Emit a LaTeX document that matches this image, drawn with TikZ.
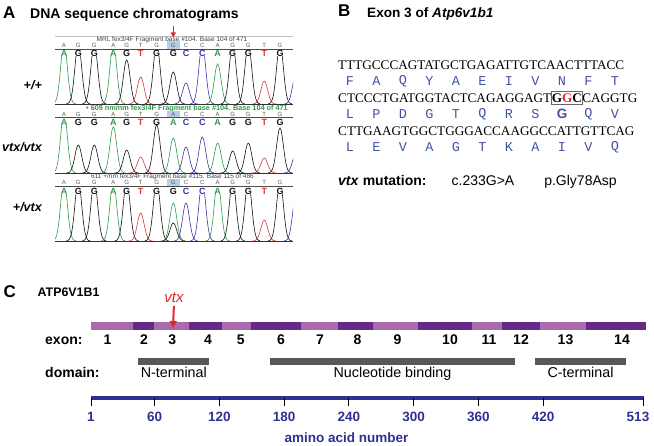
\documentclass[tikz,border=0pt]{standalone}
\usepackage{fontspec}
\setmainfont{Liberation Sans}
\newfontfamily\seqfont{Liberation Serif}
\newfontfamily\aafont{Liberation Mono}
\usetikzlibrary{arrows.meta,positioning}

\newcommand{\fsz}[1]{\fontsize{#1}{#1}\selectfont}

\definecolor{trA}{HTML}{2E9A48}
\definecolor{trC}{HTML}{3434A8}
\definecolor{trG}{HTML}{111111}
\definecolor{trT}{HTML}{D8383E}
\definecolor{exL}{HTML}{A86CAD}
\definecolor{exD}{HTML}{66298A}
\definecolor{axisblue}{HTML}{2E3192}
\definecolor{aablue}{HTML}{4152A3}
\definecolor{vtxred}{HTML}{E3262C}
\definecolor{hlblue}{HTML}{B8CDE8}
\definecolor{domgray}{HTML}{585858}

% base calls of the three runs
\def\callswt{64/A,78.3/G,94.3/G,113.3/A,126.7/G,140.7/T,156.7/G,173.3/G,186/C,202.3/C,217.7/A,232.7/G,248.3/G,264.3/T,280/G}
\def\callsmut{64/A,78.3/G,94.3/G,113.3/A,126.7/G,140.7/T,156.7/G,173.3/A,186/C,202.3/C,217.7/A,232.7/G,248.3/G,264.3/T,280/G}

% one chromatogram trace: baseline, clip top, list of centre/height/base
\newcommand{\tracerow}[3]{%
  \begin{scope}
    \clip (55,#2) rectangle (293,#1+1);
    \foreach \pc/\ph/\pb in {#3} {
      \pgfmathsetmacro{\lo}{\pc-12}
      \pgfmathsetmacro{\hi}{\pc+12}
      \draw[tr\pb, line width=0.6pt] plot[smooth, domain=\lo:\hi, samples=25]
        (\x, {#1-\ph*exp(-(\x-\pc)*(\x-\pc)/23)});
    }
  \end{scope}
  \draw[black!80, line width=0.8pt] (55,#1) -- (293,#1);}

\begin{document}
\begin{tikzpicture}[x=1pt, y=-1pt,
    panel/.style={font=\fsz{17}\bfseries, inner sep=0pt, anchor=base west},
    panelhead/.style={font=\fsz{14}\bfseries, inner sep=0pt, anchor=base west},
    genotype/.style={font=\fsz{12.5}\bfseries\itshape, inner sep=0pt, anchor=east},
    runinfo/.style={font=\fsz{6.5}, text=black!75, inner sep=0pt},
    callsmall/.style={font=\fsz{6}, text=black!65, inner sep=0pt},
    callbig/.style={font=\fsz{9}\bfseries, inner sep=0pt},
    dnaline/.style={font=\seqfont\fsz{13.2}, inner sep=0pt},
    aaletter/.style={font=\aafont\fsz{13.5}, text=aablue, inner sep=0pt},
    mutnote/.style={font=\fsz{14}, inner sep=0pt, anchor=base},
    exonlab/.style={font=\fsz{14}\bfseries, inner sep=0pt, anchor=base},
    domtext/.style={font=\fsz{14.3}, inner sep=0pt, anchor=base},
    ticklab/.style={font=\fsz{13.5}\bfseries, text=axisblue, inner sep=0pt, anchor=base},
    vtxarrow/.style={vtxred, line width=2pt, -{Triangle[length=7pt,width=7pt]}}]
\useasboundingbox (0,0) rectangle (654,446);

% ---------------- A: chromatograms
\node[panel] (pA) at (3,18.3) {A};
\node[panelhead] (tA) at (30,18.3) {DNA sequence chromatograms};
\node[genotype] (gt1) at (42,85) {+/+};
\node[genotype] (gt2) at (42,147) {vtx/vtx};
\node[genotype] (gt3) at (42,207) {+/vtx};

% run headers and rules
\draw[black!25, line width=0.6pt] (55,36) -- (293,36);
\node[runinfo] (run1) at (172,40) {MRL fex3/4F Fragment base \#104. Base 104 of 471};
\node[runinfo, font=\fsz{7.3}\bfseries, text=trA] (run2) at (187,108.3) {• 609 nm/nm fex3/4F Fragment base \#104. Base 104 of 471};
\node[runinfo] (run3) at (172.5,176.7) {611 +/nm fex3/4F Fragment base \#115. Base 115 of 486};
\foreach \ly in {49.3,117.7,186.5}
  \draw[black!70, line width=0.7pt] (55,\ly) -- (293,\ly);

% highlighted call
\fill[hlblue] (167,41.5) rectangle (180,48.6);
\fill[hlblue] (167,110.6) rectangle (180,117.2);
\fill[hlblue] (167,179.3) rectangle (180,186);

% base calls
\foreach \pc/\pb [count=\i] in \callswt {
  \node[callsmall] (s1-\i) at (\pc,45) {\pb};
  \node[callbig, text=tr\pb] (g1-\i) at (\pc,53.5) {\pb};
  \node[callsmall] (s3-\i) at (\pc,182.5) {\pb};
  \node[callbig, text=tr\pb] (g3-\i) at (\pc,191.5) {\pb};
}
\foreach \pc/\pb [count=\i] in \callsmut {
  \node[callsmall] (s2-\i) at (\pc,114) {\pb};
  \node[callbig, text=tr\pb] (g2-\i) at (\pc,122.5) {\pb};
}

% traces
\tracerow{104}{57}{64/60/A,78.3/60/G,94.3/60/G,113.3/60/A,126.7/44/G,140.7/27/T,156.7/60/G,173.3/32/G,186/21/C,202.3/60/C,217.7/40/A,232.7/60/G,248.3/60/G,264.3/23/T,280/60/G,296/30/C}
\tracerow{173}{126}{64/60/A,78.3/28/G,94.3/28/G,113.3/46/A,126.7/23/G,140.7/16/T,156.7/48/G,173.3/35/A,186/26/C,202.3/36/C,217.7/30/A,232.7/22/G,248.3/30/G,264.3/15/T,280/45/G,296/20/C}
\tracerow{241}{195}{64/60/A,78.3/60/G,94.3/60/G,113.3/60/A,126.7/60/G,140.7/28/T,156.7/60/G,173.3/18/G,173.3/38/A,186/38/C,202.3/60/C,217.7/60/A,232.7/60/G,248.3/60/G,264.3/21/T,280/60/G,296/45/C}

% mutation arrow
\coordinate (mutA) at (173.3,26);
\coordinate (mutAend) at (173.3,37.5);
\draw[vtxarrow, line width=1.3pt, -{Triangle[length=5pt,width=5pt]}] (mutA) -- (mutAend);

% ---------------- B: exon 3 sequence
\node[panel] (pB) at (338,17) {B};
\node[panelhead, font=\fsz{13.6}\bfseries] (tB) at (367,17.3) {Exon 3 of \textit{Atp6v1b1}};

\node[dnaline, anchor=west] (dna1) at (338,65) {TTTGCCCAGTATGCTGAGATTGTCAACTTTACC};
\node[dnaline, anchor=west] (dna2a) at (338,98) {CTCCCTGATGGTACTCAGAGGAGT};
\node[dnaline, anchor=base west, draw=black!60, line width=0.6pt, inner ysep=2pt]
  (ggc) at (dna2a.base east) {\textbf{G\textcolor{vtxred}{G}C}};
\node[dnaline, anchor=base west] (dna2c) at (ggc.base east) {CAGGTG};
\node[dnaline, anchor=west] (dna3) at (338,131) {CTTGAAGTGGCTGGGACCAAGGCCATTGTTCAG};

\foreach \aa [count=\i] in {F,A,Q,Y,A,E,I,V,N,F,T}
  \node[aaletter] (aa1-\i) at ({350+26.5*(\i-1)},81) {\aa};
\foreach \aa [count=\i] in {L,P,D,G,T,Q,R,S,\textnormal{\bfseries G},Q,V}
  \node[aaletter] (aa2-\i) at ({350+26.5*(\i-1)},114) {\aa};
\foreach \aa [count=\i] in {L,E,V,A,G,T,K,A,I,V,Q}
  \node[aaletter] (aa3-\i) at ({350+26.5*(\i-1)},147) {\aa};

\node[mutnote, anchor=base west, font=\fsz{14}\bfseries] (mutlab) at (338,185.5) {\textit{vtx} mutation:};
\node[mutnote] (cdna) at (483,185.5) {c.233G>A};
\node[mutnote] (prot) at (580.5,185.5) {p.Gly78Asp};

% ---------------- C: protein map
\node[panel] (pC) at (3.5,298) {C};
\node[panelhead, font=\fsz{12.4}\bfseries] (tC) at (37.5,297) {ATP6V1B1};

% exons
\foreach \xa/\xb/\col in {91/133/exL, 133/154.3/exD, 154.3/189/exL, 189/222.3/exD,
    222.3/250.5/exL, 250.5/301.3/exD, 301.3/338.2/exL, 338.2/372.6/exD, 372.6/418/exL,
    418/472/exD, 472/502.4/exL, 502.4/540/exD, 540/586.3/exL, 586.3/645.5/exD}
  \fill[\col] (\xa,322) rectangle (\xb,330);
\node[exonlab, anchor=base west] (exlab) at (45,345) {exon:};
\foreach \xc [count=\i] in {107.5,144,172.3,208,240.7,281,320,357.5,397.5,450,489,521,565.5,622}
  \node[exonlab] (ex\i) at (\xc,345) {\i};

% vtx site
\node[font=\fsz{15}\itshape, text=vtxred, inner sep=0pt, anchor=base] (vtx) at (174,303) {vtx};
\coordinate (vtxend) at (173,328);
\draw[vtxarrow, shorten <=2.5pt] (vtx.south) -- (vtxend);

% domains
\node[exonlab, anchor=base west] (domlab) at (45,378) {domain:};
\foreach \xa/\xb/\txt [count=\i] in {138.3/209.3/N-terminal, 270/515/Nucleotide binding, 535/626/C-terminal} {
  \fill[domgray] (\xa,358) rectangle (\xb,365);
  \node[domtext] (dom\i) at ({(\xa+\xb)/2},378) {\txt};
}

% amino acid axis
\draw[axisblue, line width=4pt] (91,398) -- (643.5,398);
\foreach \t in {1,60,120,180,240,300,360,420,513} {
  \pgfmathsetmacro{\xt}{91+(\t-1)*1.0791}
  \draw[black, line width=1pt] (\xt,398) -- (\xt,406);
}
\foreach \t in {1,60,120,180,240,300,360,420} {
  \pgfmathsetmacro{\xt}{91+(\t-1)*1.0791}
  \node[ticklab] (tick\t) at (\xt,422) {\t};
}
\node[ticklab] (tick513) at (638,422) {513};
\node[ticklab] (axlab) at (346.5,443) {amino acid number};
\end{tikzpicture}
\end{document}
